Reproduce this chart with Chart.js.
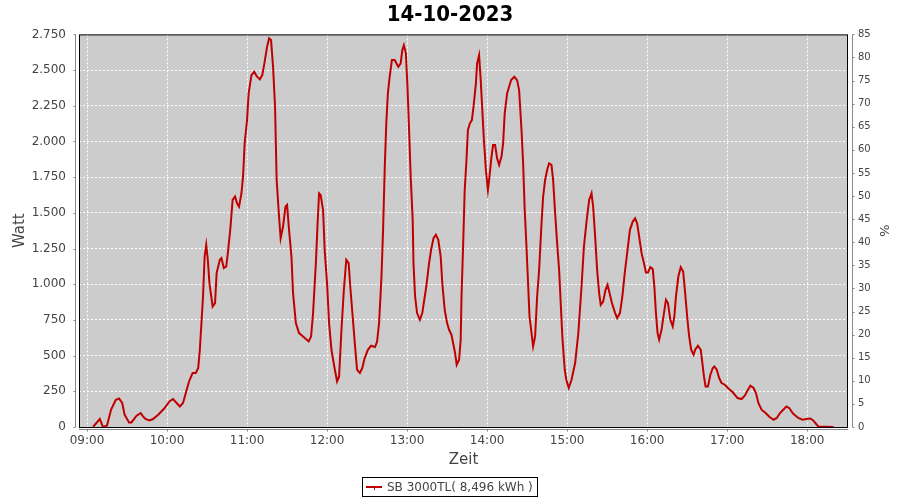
<!DOCTYPE html>
<html>
<head>
<meta charset="utf-8">
<script src="https://cdn.jsdelivr.net/npm/chart.js@4.4.0/dist/chart.umd.min.js"></script>
<style>
  body { margin: 0; background: #fff; }
  #wrap { position: relative; width: 900px; height: 500px; }
  #legend {
    position: absolute; left: 362px; top: 477px; height: 20px;
    padding: 0 4px 0 3px; border: 1px solid #000; box-sizing: border-box;
    font: 12px 'DejaVu Sans', sans-serif; color: #444;
    display: flex; align-items: center; white-space: nowrap;
  }
  #legend .swatch { width: 16px; height: 2px; background: #c00000; margin-right: 5px; position: relative; }
  #legend .swatch::after { content: ''; position: absolute; left: 8px; top: 1px; width: 1px; height: 3px; background: #c00000; }
</style>
</head>
<body>
<div id="wrap">
  <canvas id="chart" width="900" height="500"></canvas>
  <div id="legend"><span class="swatch"></span><span>SB 3000TL( 8,496 kWh )</span></div>
</div>
<script>
// time of day in hours, and power in watts
const hourOfDay = [
  9.075, 9.16, 9.20, 9.25, 9.30, 9.36, 9.40, 9.44, 9.47, 9.525, 9.555, 9.62, 9.67, 9.70, 9.73, 9.78, 9.825, 9.89, 9.97,
  10.03, 10.075, 10.12, 10.16, 10.20, 10.24, 10.275, 10.32, 10.36, 10.39, 10.41, 10.43, 10.45, 10.47, 10.49, 10.51, 10.53,
  10.57, 10.60, 10.62, 10.66, 10.68, 10.71, 10.74, 10.76, 10.79, 10.82, 10.85, 10.875, 10.90, 10.93, 10.95, 10.97,
  11.00, 11.02, 11.055, 11.09, 11.12, 11.16, 11.19, 11.22, 11.25, 11.275, 11.30, 11.325, 11.35, 11.37, 11.40, 11.42,
  11.45, 11.48, 11.50, 11.525, 11.555, 11.575, 11.61, 11.65, 11.70, 11.77, 11.80, 11.825, 11.86, 11.88, 11.90, 11.92,
  11.95, 11.97, 12.00, 12.025, 12.055, 12.09, 12.125, 12.15, 12.18, 12.21, 12.24, 12.27, 12.29, 12.32, 12.35, 12.375,
  12.41, 12.44, 12.47, 12.51, 12.55, 12.60, 12.625, 12.65, 12.68, 12.70, 12.72, 12.74, 12.76, 12.78, 12.81, 12.845,
  12.89, 12.92, 12.94, 12.96, 12.985, 13.005, 13.025, 13.045, 13.07, 13.08, 13.10, 13.125, 13.16, 13.19, 13.24, 13.275,
  13.30, 13.33, 13.36, 13.39, 13.42, 13.44, 13.47, 13.50, 13.525, 13.555, 13.575, 13.60, 13.62, 13.65, 13.67, 13.68,
  13.70, 13.72, 13.74, 13.76, 13.785, 13.81, 13.83, 13.86, 13.875, 13.90, 13.92, 13.94, 13.96, 13.985, 14.01, 14.025,
  14.055, 14.075, 14.10, 14.125, 14.15, 14.18, 14.20, 14.22, 14.25, 14.275, 14.30, 14.34, 14.375, 14.40, 14.43, 14.45,
  14.47, 14.49, 14.51, 14.53, 14.555, 14.575, 14.60, 14.625, 14.65, 14.68, 14.70, 14.725, 14.75, 14.775, 14.805, 14.825,
  14.85, 14.875, 14.90, 14.92, 14.94, 14.97, 14.99, 15.02, 15.055, 15.10, 15.14, 15.18, 15.21, 15.24, 15.275, 15.305,
  15.325, 15.35, 15.375, 15.40, 15.42, 15.45, 15.48, 15.505, 15.53, 15.56, 15.60, 15.625, 15.66, 15.69, 15.72, 15.75,
  15.785, 15.82, 15.85, 15.875, 15.90, 15.93, 15.96, 15.985, 16.01, 16.04, 16.07, 16.09, 16.11, 16.13, 16.15, 16.18,
  16.21, 16.235, 16.26, 16.29, 16.32, 16.34, 16.36, 16.39, 16.42, 16.45, 16.475, 16.50, 16.525, 16.55, 16.58, 16.60,
  16.635, 16.67, 16.69, 16.71, 16.73, 16.76, 16.79, 16.82, 16.84, 16.87, 16.90, 16.93, 16.97, 17.01, 17.07, 17.13,
  17.18, 17.22, 17.26, 17.29, 17.33, 17.36, 17.39, 17.43, 17.48, 17.53, 17.58, 17.62, 17.66, 17.71, 17.74, 17.775,
  17.825, 17.89, 17.94, 17.99, 18.04, 18.075, 18.12, 18.14, 18.33
];
const watts = [
  0, 56, 0, 10, 121, 191, 200, 168, 86, 32, 32, 79, 98, 74, 56, 46, 56, 86, 133,
  179, 196, 168, 144, 168, 249, 319, 378, 378, 413, 541, 728, 914, 1194, 1276, 1171, 1008,
  844, 868, 1078, 1171, 1183, 1113, 1124, 1218, 1381, 1591, 1614, 1567, 1543, 1637, 1754, 1987,
  2150, 2337, 2465, 2488, 2458, 2435, 2465, 2558, 2663, 2722, 2710, 2523, 2243, 1730, 1474, 1322,
  1404, 1544, 1556, 1381, 1194, 938, 728, 658, 634, 599, 634, 798, 1148, 1404, 1637, 1625,
  1520, 1241, 1008, 728, 541, 424, 319, 354, 681, 961, 1171, 1148, 984, 774, 564, 401,
  378, 413, 483, 541, 569, 560, 599, 728, 1054, 1381, 1800, 2127, 2337, 2442, 2570, 2570,
  2523, 2547, 2640, 2675, 2617, 2383, 2080, 1754, 1451, 1148, 914, 798, 751, 798, 984, 1148,
  1241, 1322, 1346, 1311, 1194, 1008, 821, 728, 681, 646, 588, 518, 436, 471, 611, 914,
  1264, 1660, 1847, 2080, 2127, 2150, 2243, 2407, 2547, 2605, 2430, 2220, 2010, 1800, 1660, 1730,
  1894, 1975, 1975, 1882, 1835, 1894, 1987, 2197, 2337, 2383, 2430, 2453, 2430, 2360, 2080, 1847,
  1520, 1287, 1031, 774, 658, 564, 634, 914, 1101, 1427, 1614, 1730, 1800, 1847, 1835, 1730,
  1497, 1287, 1101, 868, 634, 401, 331, 273, 331, 448, 658, 984, 1264, 1427, 1591, 1637,
  1544, 1334, 1101, 938, 856, 879, 961, 996, 938, 868, 798, 763, 798, 914, 1078, 1218,
  1381, 1439, 1462, 1427, 1334, 1218, 1148, 1082, 1082, 1120, 1106, 984, 798, 658, 611, 681,
  798, 891, 868, 751, 704, 774, 914, 1054, 1120, 1089, 938, 774, 634, 541, 506, 541,
  569, 541, 448, 354, 284, 284, 366, 413, 424, 401, 343, 308, 296, 273, 243, 203,
  196, 219, 261, 289, 273, 238, 168, 121, 98, 70, 51, 63, 98, 126, 144, 133,
  93, 63, 51, 56, 60, 46, 16, 4, 0
];
const hourTicks = [9, 10, 11, 12, 13, 14, 15, 16, 17, 18];

const tickFont = { family: 'DejaVu Sans', size: 12 };
const titleFont = { family: 'DejaVu Sans', size: 15 };

// German thousands separator: 2750 -> "2.750"
const fmtWatt = v => String(Math.round(v)).replace(/\B(?=(\d{3})+(?!\d))/g, '.');
const fmtHour = v => String(Math.floor(v)).padStart(2, '0') + ':00';

// gray plot background, black frame and the detached gray axis lines
const framePlugin = {
  id: 'frame',
  beforeDraw(chart) {
    const { ctx, chartArea: a } = chart;
    ctx.save();
    ctx.fillStyle = '#cccccc';
    ctx.fillRect(a.left, a.top, a.right - a.left, a.bottom - a.top);
    ctx.restore();
  },
  afterDatasetsDraw(chart) {
    const { ctx, chartArea: a, scales } = chart;
    ctx.save();
    ctx.strokeStyle = '#000';
    ctx.lineWidth = 1;
    ctx.strokeRect(a.left + 0.5, a.top + 0.5, a.right - a.left - 1, a.bottom - a.top);

    ctx.strokeStyle = '#888';
    ctx.beginPath();
    // left axis
    const lx = Math.round(a.left) - 3.5;
    ctx.moveTo(lx, a.top); ctx.lineTo(lx, a.bottom);
    scales.y.ticks.forEach(t => {
      const py = Math.round(scales.y.getPixelForValue(t.value)) + 0.5;
      ctx.moveTo(lx, py); ctx.lineTo(lx - 2, py);
    });
    // right axis
    const rx = Math.round(a.right) + 4.5;
    ctx.moveTo(rx, a.top); ctx.lineTo(rx, a.bottom);
    scales.y1.ticks.forEach(t => {
      const py = Math.round(scales.y1.getPixelForValue(t.value)) + 0.5;
      ctx.moveTo(rx, py); ctx.lineTo(rx + 2, py);
    });
    // bottom axis
    const by = Math.round(a.bottom) + 2.5;
    ctx.moveTo(a.left, by); ctx.lineTo(a.right, by);
    scales.x.ticks.forEach(t => {
      const px = Math.round(scales.x.getPixelForValue(t.value)) + 0.5;
      ctx.moveTo(px, by); ctx.lineTo(px, by + 2);
    });
    ctx.stroke();
    ctx.restore();
  }
};

new Chart(document.getElementById('chart'), {
  type: 'line',
  data: {
    datasets: [{
      label: 'SB 3000TL( 8,496 kWh )',
      data: hourOfDay.map((h, i) => ({ x: h, y: watts[i] })),
      borderColor: '#c00000',
      borderWidth: 2,
      pointRadius: 0,
      tension: 0,
      fill: false,
      yAxisID: 'y'
    }]
  },
  options: {
    responsive: false,
    animation: false,
    devicePixelRatio: 1,
    layout: { padding: { left: 0, right: 0, top: 0, bottom: 30 } },
    plugins: {
      legend: { display: false },
      tooltip: { enabled: false },
      title: {
        display: true,
        text: '14-10-2023',
        color: '#000',
        font: { family: 'DejaVu Sans Condensed', size: 22, weight: 'bold' },
        padding: { top: 2, bottom: 6 }
      }
    },
    scales: {
      x: {
        type: 'linear',
        min: 8.9,
        max: 18.51,
        afterBuildTicks: s => { s.ticks = hourTicks.map(v => ({ value: v })); },
        afterFit: s => { s.height = 43; },
        grid: { color: '#fff', lineWidth: 1, drawTicks: false },
        border: { display: false, dash: [2, 2] },
        ticks: { font: tickFont, color: '#444', padding: 7, maxRotation: 0, autoSkip: false, callback: fmtHour },
        title: { display: true, text: 'Zeit', color: '#444', font: titleFont, padding: { top: 0, bottom: 1 } }
      },
      y: {
        position: 'left',
        min: 0,
        max: 2750,
        afterFit: s => { s.width = 79; },
        grid: { color: '#fff', lineWidth: 1, drawTicks: false },
        border: { display: false, dash: [2, 2] },
        ticks: { stepSize: 250, font: tickFont, color: '#444', padding: 13, callback: fmtWatt },
        title: { display: true, text: 'Watt', color: '#444', font: titleFont, padding: { top: 11, bottom: 0 } }
      },
      y1: {
        position: 'right',
        min: 0,
        max: 85,
        afterFit: s => { s.width = 52; },
        grid: { display: false, drawTicks: false },
        border: { display: false },
        ticks: { stepSize: 5, font: { family: 'DejaVu Sans', size: 10 }, color: '#444', padding: 10 },
        title: { display: true, text: '%', color: '#444', font: { family: 'DejaVu Sans', size: 13 }, padding: { top: 9, bottom: 0 } }
      }
    }
  },
  plugins: [framePlugin]
});
</script>
</body>
</html>
